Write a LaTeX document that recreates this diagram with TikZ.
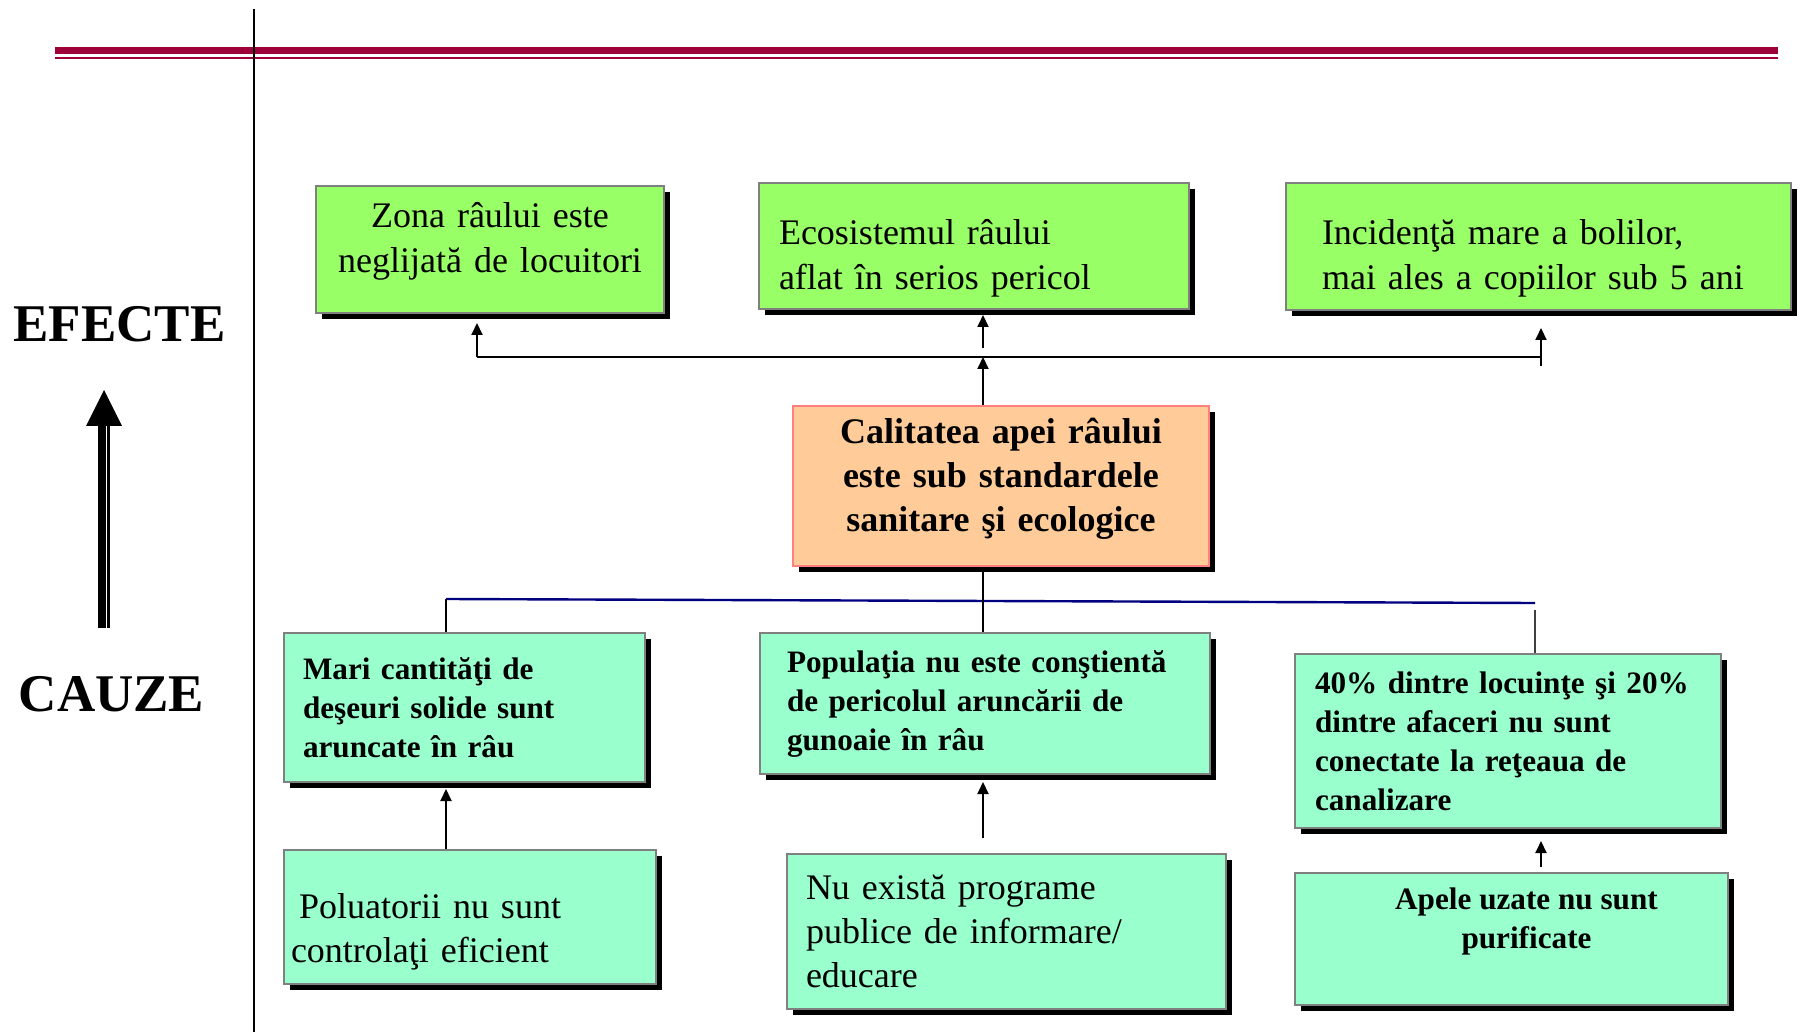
\documentclass[tikz,border=0pt]{standalone}
\usepackage{fontspec}
\setmainfont{Liberation Serif}
\usetikzlibrary{arrows.meta, positioning, shadows, calc}
\definecolor{effectgreen}{RGB}{153,255,102}
\definecolor{causegreen}{RGB}{153,255,204}
\definecolor{corepeach}{RGB}{255,204,153}
\definecolor{coreedge}{RGB}{255,128,128}
\definecolor{rulered}{RGB}{158,0,58}
\definecolor{busnavy}{RGB}{0,0,128}
\tikzset{
    shadowbox/.style={rectangle, draw=gray, line width=1pt, anchor=north west, inner ysep=0pt, drop shadow={shadow xshift=3pt, shadow yshift=-3pt, fill=black, opacity=1}},
    effectbox/.style={shadowbox, fill=effectgreen, font=\fontsize{18}{22.5}\selectfont},
    causebox/.style={shadowbox, fill=causegreen, font=\fontsize{15.6}{19.5}\selectfont\bfseries, align=left},
    rootbox/.style={shadowbox, fill=causegreen, font=\fontsize{18}{22}\selectfont, align=left},
    uparrow/.style={-{Triangle[width=5.5pt,length=6pt]}, line width=1pt},
}

\begin{document}
\begin{tikzpicture}[
  x=0.5pt, y=-0.5pt,
  % side labels
  sidelabel/.style={font=\fontsize{26.5}{30}\selectfont\bfseries, inner sep=0pt},
  busline/.style={line width=0.8pt}
]
\useasboundingbox (0,0) rectangle (1801,1032);

% Header rule and divider
\fill[rulered] (55,47.3) rectangle (1778,54.3);
\fill[rulered] (55,56.8) rectangle (1778,59.2);
\draw[line width=1pt] (254,9) -- (254,1032);

% Left column - direction
\node[sidelabel] (efecte) at (119.5,324) {EFECTE};
\node[sidelabel] (cauze) at (111.5,694) {CAUZE};
\fill (98.3,628) rectangle (106,426);
\fill (107.3,628) rectangle (110,426);
\fill (86,426) -- (122,426) -- (104,390) -- cycle;

% Top row - effects
\node[effectbox, minimum width=174pt, text height=20.85pt, text depth=42.65pt, text width=164pt, inner xsep=5pt, align=center] (zona) at (315,185) {Zona râului este\\neglijată de locuitori};
\node[effectbox, minimum width=215pt, text height=30.65pt, text depth=32.35pt, text width=195pt, inner xsep=10pt, align=left] (eco) at (758,182) {Ecosistemul râului\\aflat în serios pericol};
\node[effectbox, minimum width=252.5pt, text height=30.65pt, text depth=32.85pt, text width=216.5pt, inner xsep=18pt, align=left] (incid) at (1285,182) {Incidenţă mare a bolilor,\\mai ales a copiilor sub 5 ani};

% Core problem
\node[shadowbox, draw=coreedge, fill=corepeach, minimum width=208pt, text height=18.6pt, text depth=61.4pt, text width=198pt, inner xsep=5pt, align=center, font=\fontsize{18}{22}\selectfont\bfseries] (core) at (792,405) {Calitatea apei râului\\este sub standardele\\sanitare şi ecologice};

% Middle row - direct causes
\node[causebox, minimum width=180.5pt, minimum height=74.5pt, text width=161.5pt, inner xsep=9.5pt] (deseuri) at (283,632) {Mari cantităţi de\\deşeuri solide sunt\\aruncate în râu};
\node[causebox, minimum width=225pt, minimum height=70.5pt, text width=198pt, inner xsep=13.5pt] (populatia) at (759,632) {Populaţia nu este conştientă\\de pericolul aruncării de\\gunoaie în râu};
\node[causebox, minimum width=213pt, minimum height=87pt, text width=193pt, inner xsep=10pt] (locuinte) at (1294,653) {40\% dintre locuinţe şi 20\%\\dintre afaceri nu sunt\\conectate la reţeaua de\\canalizare};

% Bottom row - root causes
\node[rootbox, minimum width=186pt, text height=34pt, text depth=33pt, text width=179pt, inner xsep=3.5pt] (poluatori) at (283,849) {\hspace*{4pt}Poluatorii nu sunt\\controlaţi eficient};
\node[rootbox, minimum width=219.5pt, minimum height=77.5pt, text width=200.5pt, inner xsep=9.5pt] (programe) at (786,853) {Nu există programe\\publice de informare/\\educare};
\node[shadowbox, fill=causegreen, minimum width=216.5pt, minimum height=66pt,
  label={[font=\fontsize{15.6}{19.5}\selectfont\bfseries, align=center, anchor=north, xshift=7.5pt, yshift=-4.2pt]north:Apele uzate nu sunt\\purificate}] (apele) at (1294,872) {};

% Effects bus
\coordinate (topbusL) at (477,357);
\coordinate (topbusC) at (983,357);
\coordinate (topbusR) at (1541,357);
\draw[busline] (topbusL) -- (topbusR);
\draw[uparrow] (topbusL) -- ([yshift=-4.5pt]zona.south -| topbusL);
\draw[uparrow] ([yshift=4.5pt]topbusC) -- ([yshift=-2.5pt]eco.south -| topbusC);
\draw[uparrow] ([yshift=-4.5pt]topbusR) -- ([yshift=-8.5pt]incid.south -| topbusR);
\draw[uparrow] (core.north -| topbusC) -- (topbusC);

% Causes bus
\coordinate (causebusL) at (446,599);
\coordinate (causebusR) at (1535,603);
\draw[busnavy, line width=1.2pt] (causebusL) -- (causebusR);
\draw[busline] (causebusL) -- (deseuri.north -| causebusL);
\draw[busline] (populatia.north -| topbusC) -- (core.south -| topbusC);
\draw[busline, darkgray] ([yshift=-3.5pt]causebusR) -- (locuinte.north -| causebusR);

% Root causes to causes
\draw[uparrow] (poluatori.north -| causebusL) -- ([yshift=-3pt]deseuri.south -| causebusL);
\draw[uparrow] ([yshift=7.5pt]programe.north -| topbusC) -- ([yshift=-3.5pt]populatia.south -| topbusC);
\draw[uparrow] ([yshift=2.5pt]apele.north -| topbusR) -- ([yshift=-6pt]locuinte.south -| topbusR);
\end{tikzpicture}
\end{document}
